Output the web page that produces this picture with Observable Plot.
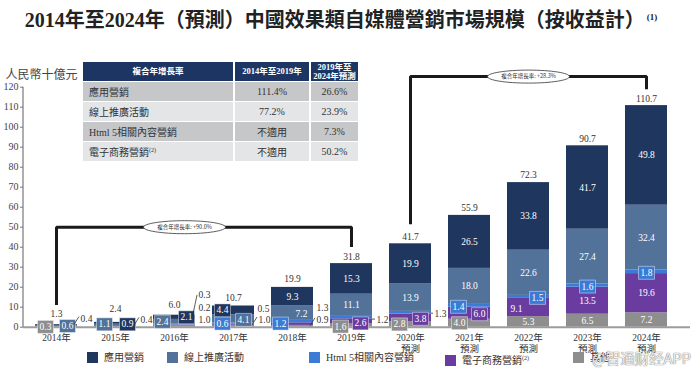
<!DOCTYPE html>
<html><head><meta charset="utf-8">
<script src="https://cdn.jsdelivr.net/npm/d3@7"></script>
<script src="https://cdn.jsdelivr.net/npm/@observablehq/plot@0.6"></script>
<style>
html,body{margin:0;padding:0;background:#fff;}
body{width:692px;height:376px;overflow:hidden;position:relative;font-family:"Liberation Serif","Noto Sans CJK TC",serif;color:#333;}
#title{position:absolute;left:0;top:7px;width:682px;text-align:center;font-size:20px;font-weight:bold;color:#222;line-height:26px;white-space:nowrap;}
#title sup{font-size:9px;vertical-align:top;position:relative;top:-3px;margin-left:2px;}
#chart{position:absolute;left:0;top:44px;}
#tbl{position:absolute;left:83px;top:62px;}
#tbl table{border-collapse:separate;border-spacing:2px 1px;margin:-1px -2px;}
#tbl td{height:19px;padding:0;font-size:10px;color:#333;text-align:center;white-space:nowrap;}
#tbl tr.h td{background:#1d3562;color:#fff;font-weight:bold;font-size:8.5px;line-height:9px;}
#tbl tr.r0 td{background:#c6c7c9;}
#tbl tr.r1 td{background:#e4e5e7;}
#tbl td.lab{text-align:left;padding-left:6px;}
#tbl sup{font-size:6px;}
#legend .it{position:absolute;top:352px;font-size:10px;color:#333;white-space:nowrap;line-height:12px;}
#legend .sw{display:inline-block;width:11px;height:11px;vertical-align:-2px;margin-right:6px;}
#legend sup{font-size:6px;}
#wm{position:absolute;left:592px;top:347px;font-family:"Noto Sans CJK SC",sans-serif;font-size:14.5px;color:rgba(255,255,255,0.9);text-shadow:0 0 1px #777,0 0 1px #777;white-space:nowrap;}
</style></head><body>
<div id="title"></div>
<div id="chart"></div>
<div id="tbl"></div>
<div id="legend"></div>
<div id="wm">@智通财经APP</div>
<script>
// ---------- data ----------
const titleText = "2014年至2024年（預測）中國效果類自媒體營銷市場規模（按收益計）";
const titleNote = "(1)";
const unitLabel = "人民幣十億元";
const years = ["2014年","2015年","2016年","2017年","2018年","2019年","2020年","2021年","2022年","2023年","2024年"];
const tickLabels = ["2014年","2015年","2016年","2017年","2018年","2019年","2020年\n預測","2021年\n預測","2022年\n預測","2023年\n預測","2024年\n預測"];
const yTicks = [0,10,20,30,40,50,60,70,80,90,100,110,120];
// stack order bottom -> top
const seriesNames = ["其他","電子商務營銷","Html 5相關內容營銷","線上推廣活動","應用營銷"];
const other     = [0.3,0.4,1.0,1.0,0.9,1.6,2.8,4.0,5.3,6.5,7.2];
const ecommerce = [0,0,0.2,0.5,1.3,2.6,3.8,6.0,9.1,13.5,19.6];
const html5     = [0,0,0.3,0.6,1.2,1.2,1.3,1.4,1.5,1.6,1.8];
const online    = [0.6,1.1,2.4,4.1,7.2,11.1,13.9,18.0,22.6,27.4,32.4];
const app       = [0.4,0.9,2.1,4.4,9.3,15.3,19.9,26.5,33.8,41.7,49.8];
const totals    = [1.3,2.4,6.0,10.7,19.9,31.8,41.7,55.9,72.3,90.7,110.7];
// legend
const legendNames = ["應用營銷","線上推廣活動","Html 5相關內容營銷","電子商務營銷","其他"];
const legendNotes = ["","","","(2)",""];
// CAGR table
const cagrHeader = ["複合年增長率","2014年至2019年","2019年至<br>2024年預測"];
const cagrRows = ["應用營銷","線上推廣活動","Html 5相關內容營銷","電子商務營銷"];
const cagrNotes = ["","","","(2)"];
const cagr1419 = ["111.4%","77.2%","不適用","不適用"];
const cagr1924 = ["26.6%","23.9%","7.3%","50.2%"];
// CAGR brackets
const bracketFrom = ["2014年","2020年"];
const bracketTo = ["2019年","2024年"];
const bracketLevel = [50,125.3];
const bracketText = ["複合年增長率: +90.0%","複合年增長率: +28.3%"];

// ---------- styles / layout ----------
const FONT = '"Liberation Serif","Noto Sans CJK TC",serif';
const seriesColors = ["#8e8e8e","#6a3c9f","#3a7bd5","#52729a","#1f365f"];
const legendColors = ["#1f365f","#52729a","#3a7bd5","#6a3c9f","#8e8e8e"];
const legendLeft = [87,167,309,445,573];
const totalDy = [-11,-13,-10,-8,-8,-7,-7,-7,-8,-7,-7];
const bracketAt = ["2016年","2022年"];
const bracketDx = [10,0];
// label placement for small segments: [year, series, kind, dx, dy, leader]
const callouts = [
 ["2014年","其他","box",-11,0],
 ["2014年","線上推廣活動","box",11,0],
 ["2014年","應用營銷","out",24,-6,"slash"],
 ["2015年","線上推廣活動","box",-11,-1],
 ["2015年","應用營銷","box",12,1],
 ["2015年","其他","out",25,-7,"slash"],
 ["2016年","線上推廣活動","box",-12,0],
 ["2016年","應用營銷","box",12,0],
 ["2016年","Html 5相關內容營銷","out",24,-30,"long"],
 ["2016年","電子商務營銷","out",24,-17.5],
 ["2016年","其他","out",24,-6.7],
 ["2017年","應用營銷","box",-11,0],
 ["2017年","Html 5相關內容營銷","box",-11,0],
 ["2017年","線上推廣活動","box",10,1],
 ["2017年","電子商務營銷","out",24,-16],
 ["2017年","其他","out",25,-6.7,"slash"],
 ["2018年","線上推廣活動","in",9,1],
 ["2018年","Html 5相關內容營銷","box",-12,2],
 ["2018年","電子商務營銷","out",24,-16.6],
 ["2018年","其他","out",24,-6,"slash"],
 ["2019年","其他","box",-11,1],
 ["2019年","電子商務營銷","box",9,2],
 ["2019年","Html 5相關內容營銷","out",25,2,"h"],
 ["2020年","其他","box",-11,0],
 ["2020年","電子商務營銷","box",10,1],
 ["2020年","Html 5相關內容營銷","out",24,1,"h"],
 ["2021年","其他","box",-10,0],
 ["2021年","電子商務營銷","box",10,1],
 ["2021年","Html 5相關內容營銷","box",-11,1],
 ["2022年","電子商務營銷","in",-12,1],
 ["2022年","Html 5相關內容營銷","box",9,1],
 ["2023年","Html 5相關內容營銷","box",0,1],
 ["2024年","Html 5相關內容營銷","box",0,1]
];

// ---------- HTML parts ----------
document.getElementById("title").innerHTML = titleText + "<sup>" + titleNote + "</sup>";
{
  const w = [150,74,47];
  let h = '<table><tr class="h">' + cagrHeader.map((t,i)=>`<td style="width:${w[i]}px">${t}</td>`).join("") + "</tr>";
  cagrRows.forEach((r,i)=>{
    h += `<tr class="r${i%2}"><td class="lab">${r}${cagrNotes[i]?"<sup>"+cagrNotes[i]+"</sup>":""}</td><td>${cagr1419[i]}</td><td>${cagr1924[i]}</td></tr>`;
  });
  document.getElementById("tbl").innerHTML = h + "</table>";
}
document.getElementById("legend").innerHTML = legendNames.map((n,i)=>
  `<div class="it" style="left:${legendLeft[i]}px"><span class="sw" style="background:${legendColors[i]}"></span>${n}${legendNotes[i]?"<sup>"+legendNotes[i]+"</sup>":""}</div>`).join("");

// ---------- chart ----------
const valuesBySeries = [other, ecommerce, html5, online, app];
const rows = [];
years.forEach((yr,i)=>{
  let c = 0;
  seriesNames.forEach((s,j)=>{
    const v = valuesBySeries[j][i];
    rows.push({year: yr, series: s, value: v, y1: c, y2: c + v, mid: c + v/2, label: v.toFixed(1), color: seriesColors[j]});
    c += v;
  });
});
const find = (yr, s) => rows.find(r => r.year === yr && r.series === s);
const totalRows = years.map((yr,i)=>({year: yr, total: totals[i], label: totals[i].toFixed(1)}));

const rectSym = (w,h) => ({draw(ctx){ ctx.rect(-w/2,-h/2,w,h); }});
const ellipseSym = (rx,ry) => ({draw(ctx){ const k=0.5523;
  ctx.moveTo(-rx,0);
  ctx.bezierCurveTo(-rx,-k*ry,-k*rx,-ry,0,-ry);
  ctx.bezierCurveTo(k*rx,-ry,rx,-k*ry,rx,0);
  ctx.bezierCurveTo(rx,k*ry,k*rx,ry,0,ry);
  ctx.bezierCurveTo(-k*rx,ry,-rx,k*ry,-rx,0);
  ctx.closePath(); }});

const calloutKeys = new Set(callouts.map(c => c[0]+"|"+c[1]));
const inRows = rows.filter(r => r.value > 0 && !calloutKeys.has(r.year+"|"+r.series));

const marks = [];
marks.push(Plot.barY(rows, {x:"year", y1:"y1", y2:"y2", fill:"color"}));
marks.push(Plot.ruleY([0], {stroke:"#9c9c9c", strokeWidth:2, insetRight:-12}));
marks.push(Plot.text(inRows, {x:"year", y:"mid", text:"label", fill:"white", fontSize:9.5}));
callouts.forEach(([yr,s,kind,dx,dy])=>{
  const r = find(yr,s);
  if (kind === "box") {
    marks.push(Plot.dot([r], {x:"year", y:"mid", dx, dy, r:5, symbol: rectSym(16,13), fill:"color", stroke:"rgba(255,255,255,0.55)", strokeWidth:0.8}));
    marks.push(Plot.text([r], {x:"year", y:"mid", dx, dy, text:"label", fill:"white", fontSize:9.5}));
  } else if (kind === "in") {
    marks.push(Plot.text([r], {x:"year", y:"mid", dx, dy, text:"label", fill:"white", fontSize:9.5}));
  } else {
    marks.push(Plot.text([r], {x:"year", y:"mid", dx, dy, text:"label", fill:"#333", fontSize:9.5, textAnchor:"start"}));
  }
});
totalRows.forEach((t,i)=>{
  marks.push(Plot.text([t], {x:"year", y:"total", dy: totalDy[i], text:"label", fill:"#333", fontSize:9.5}));
});
// brackets
const bracketPts = [];
bracketFrom.forEach((f,i)=>{
  const t = bracketTo[i];
  const tf = totals[years.indexOf(f)], tt = totals[years.indexOf(t)];
  bracketPts.push({id:i, x:f, y: tf + 9.8});
  bracketPts.push({id:i, x:f, y: bracketLevel[i]});
  bracketPts.push({id:i, x:t, y: bracketLevel[i]});
  bracketPts.push({id:i, x:t, y: tt + 8.3});
});
marks.push(Plot.line(bracketPts, {x:"x", y:"y", z:"id", stroke:"#1a1a1a", strokeWidth:3, strokeLinejoin:"miter", strokeLinecap:"butt"}));
bracketFrom.forEach((f,i)=>{
  const b = {at: bracketAt[i], level: bracketLevel[i], text: bracketText[i]};
  marks.push(Plot.dot([b], {x:"at", y:"level", dx: bracketDx[i], r:5, symbol: ellipseSym(41,6.5), fill:"white", stroke:"#333", strokeWidth:0.8}));
  marks.push(Plot.text([b], {x:"at", y:"level", dx: bracketDx[i], text:"text", fill:"#333", fontSize:5.5, fontFamily:'"Noto Sans CJK TC",sans-serif'}));
});
marks.push(Plot.axisY({ticks: yTicks, tickSize:3, tickPadding:2, fontSize:10, label:null, fill:"#444", stroke:"#777"}));
marks.push(Plot.axisX({tickSize:0, tickPadding:6, fontSize:9.5, lineHeight:1.15, label:null, fill:"#333",
  tickFormat: d => tickLabels[years.indexOf(d)]}));
marks.push(Plot.text([unitLabel], {frameAnchor:"top-left", dx:-18, dy:-17, textAnchor:"start", fontSize:12, fill:"#444", text: d => d}));

const chart = Plot.plot({
  width: 692, height: 310,
  marginLeft: 23, marginRight: 14, marginTop: 42.7, marginBottom: 27.3,
  style: {fontFamily: FONT, fontSize: "9.5px", background: "transparent", overflow: "visible", color:"#333"},
  x: {domain: years, paddingInner: 0.29, paddingOuter: 0.17, axis: null},
  y: {domain: [0,120], axis: null},
  marks
});
document.getElementById("chart").appendChild(chart);

// axis line + leader lines (positions via Plot's scales)
const sx = chart.scale("x"), sy = chart.scale("y");
const xc = yr => sx.apply(yr) + sx.bandwidth/2;
const svg = d3.select(chart);
svg.append("line").attr("x1", sx.range[0]).attr("x2", sx.range[0])
  .attr("y1", sy.apply(0)).attr("y2", sy.apply(120)).attr("stroke","#777").attr("stroke-width",1.2);
const g = svg.append("g").attr("stroke","#333").attr("stroke-width",0.8).attr("fill","none");
callouts.forEach(([yr,s,kind,dx,dy,lead])=>{
  if (!lead) return;
  const r = find(yr,s);
  const xt = xc(yr) + dx, yt = sy.apply(r.mid) + dy;
  if (lead === "slash") g.append("line").attr("x1", xt-6).attr("y1", yt+6).attr("x2", xt-1).attr("y2", yt-2);
  else if (lead === "long") g.append("line").attr("x1", xt-5).attr("y1", yt+20).attr("x2", xt-1).attr("y2", yt+1);
  else if (lead === "h") g.append("line").attr("x1", xc(yr) + sx.bandwidth/2).attr("y1", yt).attr("x2", xt-1).attr("y2", yt);
});
</script>
</body></html>
